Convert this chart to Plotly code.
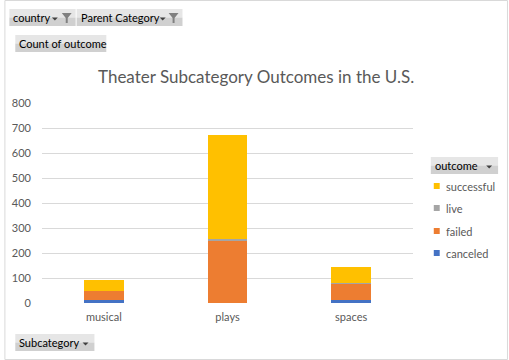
import plotly.graph_objects as go

categories = ["musical", "plays", "spaces"]
canceled = [11, 0, 14]
failed = [39, 249, 63]
live = [0, 7, 2]
successful = [44, 416, 65]

series_names = ["canceled", "failed", "live", "successful"]
series_values = [canceled, failed, live, successful]
series_colors = ["#4472C4", "#ED7D31", "#A5A5A5", "#FFC000"]

title_text = "Theater Subcategory Outcomes in the U.S."
y_ticks = [0, 100, 200, 300, 400, 500, 600, 700, 800]

FONT = "Lato"
TXT = "#595959"

# figure geometry (pixels)
WIDTH, HEIGHT = 509, 360
L, R, T, B = 38, 96, 103, 57
PW = WIDTH - L - R
PH = HEIGHT - T - B


def X(px):
    return (px - L) / PW


def Y(py):
    return (HEIGHT - B - py) / PH


fig = go.Figure()
for name, vals, col in zip(series_names, series_values, series_colors):
    fig.add_trace(go.Bar(x=categories, y=vals, name=name, marker_color=col,
                         marker_line_width=0, showlegend=False))

shapes = []
annotations = []

# outer border
shapes.append(dict(type="rect", xref="paper", yref="paper",
                   x0=X(0.5), x1=X(WIDTH - 0.5), y0=Y(0.5), y1=Y(HEIGHT - 0.5),
                   line=dict(color="#d9d9d9", width=1), fillcolor="rgba(0,0,0,0)", layer="below"))


def button(x0, y0, x1, y1, label, arrow=True, funnel=False, arrow_x=None):
    mid = (y0 + y1) / 2
    shapes.append(dict(type="rect", xref="paper", yref="paper",
                       x0=X(x0), x1=X(x1), y0=Y(y0), y1=Y(mid),
                       line=dict(width=0), fillcolor="#e6e6e6", layer="below"))
    shapes.append(dict(type="rect", xref="paper", yref="paper",
                       x0=X(x0), x1=X(x1), y0=Y(mid), y1=Y(y1),
                       line=dict(width=0), fillcolor="#d0d0d0", layer="below"))
    annotations.append(dict(text=label, xref="paper", yref="paper",
                            x=X(x0 + 2), y=Y(mid), xanchor="left", yanchor="middle",
                            showarrow=False, font=dict(family=FONT, size=11, color="#000000")))
    if arrow:
        ax = arrow_x
        shapes.append(dict(type="path", xref="paper", yref="paper",
                           path=f"M {X(ax-3)},{Y(mid)} L {X(ax+3)},{Y(mid)} L {X(ax)},{Y(mid+3)} Z",
                           fillcolor="#404040", line=dict(width=0)))
    if funnel:
        fx = x1 - 9
        path = (f"M {X(fx-5)},{Y(y0+4)} L {X(fx+5)},{Y(y0+4)} L {X(fx+1)},{Y(y0+9)} "
                f"L {X(fx+1)},{Y(y0+14)} L {X(fx-1)},{Y(y0+14)} L {X(fx-1)},{Y(y0+9)} Z")
        shapes.append(dict(type="path", xref="paper", yref="paper", path=path,
                           fillcolor="#808080", line=dict(width=0)))


button(5, 9, 72, 26, "country", arrow=True, funnel=True, arrow_x=51)
button(73, 9, 180, 26, "Parent Category", arrow=True, funnel=True, arrow_x=160)
button(11, 35, 103, 52, "Count of outcome", arrow=False)
button(11, 334, 91, 351, "Subcategory", arrow=True, arrow_x=82)
button(431, 157, 499, 174, "outcome", arrow=True, arrow_x=490)

# manual legend (top to bottom: successful, live, failed, canceled)
legend_rows = [("successful", "#FFC000", 186), ("live", "#A5A5A5", 208),
               ("failed", "#ED7D31", 231), ("canceled", "#4472C4", 253)]
for name, col, py in legend_rows:
    shapes.append(dict(type="rect", xref="paper", yref="paper",
                       x0=X(434), x1=X(440), y0=Y(py + 3), y1=Y(py - 3),
                       line=dict(width=0), fillcolor=col))
    annotations.append(dict(text=name, xref="paper", yref="paper", x=X(444), y=Y(py),
                            xanchor="left", yanchor="middle", showarrow=False,
                            font=dict(family=FONT, size=11, color=TXT)))

annotations.append(dict(text=title_text, xref="paper", yref="paper", x=X(254.5), y=Y(76),
                        xanchor="center", yanchor="middle", showarrow=False,
                        font=dict(family=FONT, size=17, color=TXT)))

fig.update_layout(
    width=WIDTH, height=HEIGHT,
    margin=dict(l=L, r=R, t=T, b=B, pad=0),
    barmode="stack", bargap=0.68,
    plot_bgcolor="white", paper_bgcolor="white",
    font=dict(family=FONT, size=11, color=TXT),
    shapes=shapes, annotations=annotations,
    showlegend=False,
    xaxis=dict(showgrid=False, showline=False, zeroline=False, ticks="",
               tickfont=dict(family=FONT, size=11, color=TXT), ticklabelstandoff=6,
               fixedrange=True),
    yaxis=dict(range=[0, 800], tickvals=y_ticks, showgrid=True, gridcolor="#d9d9d9",
               gridwidth=1, zeroline=False, showline=False, ticks="",
               tickfont=dict(family=FONT, size=11, color=TXT), ticklabelstandoff=10,
               fixedrange=True),
)

fig.write_html("out.html", config={"displayModeBar": False},
               post_script="document.body.style.margin='0';")
